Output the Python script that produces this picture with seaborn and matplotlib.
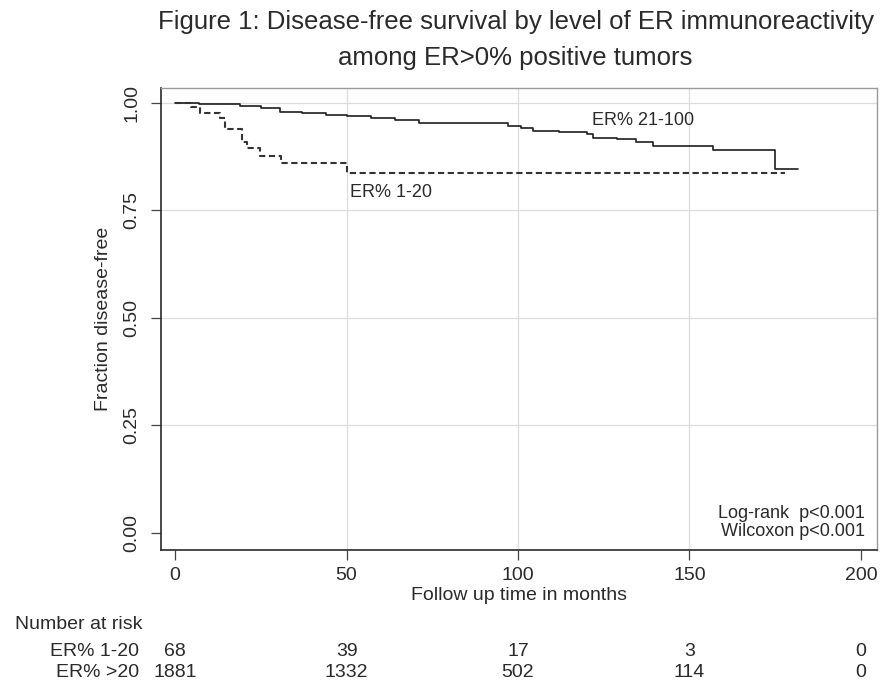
import matplotlib
matplotlib.use("Agg")
import matplotlib.pyplot as plt
import matplotlib.transforms as mtransforms
import pandas as pd
import seaborn as sns

# Kaplan-Meier step estimates (months, fraction disease-free)
months_high = [0, 7, 12, 19, 25, 30.5, 37, 44, 50, 57, 64, 71, 97, 101, 104.5,
               112, 120, 122, 129, 134.5, 139.5, 157, 175, 181.7]
surv_high = [1.000, 0.998, 0.996, 0.992, 0.987, 0.979, 0.976, 0.972, 0.969,
             0.964, 0.959, 0.954, 0.946, 0.941, 0.935, 0.931, 0.927, 0.919,
             0.915, 0.909, 0.899, 0.890, 0.845, 0.845]

months_low = [0, 4.5, 7.3, 13, 14.6, 19.4, 21, 24.8, 31, 50, 178]
surv_low = [1.000, 0.989, 0.975, 0.965, 0.940, 0.909, 0.894, 0.876, 0.859,
            0.836, 0.836]

group_high = "ER% 21-100"
group_low = "ER% 1-20"

# Number at risk table
risk_times = [0, 50, 100, 150, 200]
risk_labels = ["ER% 1-20", "ER% >20"]
risk_low = [68, 39, 17, 3, 0]
risk_high = [1881, 1332, 502, 114, 0]

x_ticks = [0, 50, 100, 150, 200]
y_ticks = [0.00, 0.25, 0.50, 0.75, 1.00]
grid_x = [50, 100, 150]
grid_y = [0.25, 0.50, 0.75, 1.00]

sns.set_theme(style="white")
plt.rcParams["font.family"] = ["Liberation Sans", "DejaVu Sans"]
TXT = "#2a2a2a"

fig = plt.figure(figsize=(8.8, 6.86), dpi=100)
ax = fig.add_axes([0.183, 0.1983, 0.8136, 0.6734])

df_high = pd.DataFrame({"months": months_high, "surv": surv_high, "group": group_high})
df_low = pd.DataFrame({"months": months_low, "surv": surv_low, "group": group_low})

for gx in grid_x:
    ax.axvline(gx, color="#dcdcdc", lw=0.9, zorder=0)
for gy in grid_y:
    ax.axhline(gy, color="#dcdcdc", lw=0.9, zorder=0)

sns.lineplot(data=df_high, x="months", y="surv", ax=ax, color="#1e1e1e",
             lw=1.2, drawstyle="steps-post", estimator=None, legend=False)
sns.lineplot(data=df_low, x="months", y="surv", ax=ax, color="#333333",
             lw=1.5, linestyle=(0, (3.0, 1.7)), drawstyle="steps-post",
             estimator=None, legend=False)

ax.text(136.5, 0.958, group_high, ha="center", va="center", fontsize=13, color=TXT)
ax.text(63, 0.791, group_low, ha="center", va="center", fontsize=13, color=TXT)

ax.text(0.983, 0.080, "Log-rank  p<0.001", transform=ax.transAxes,
        ha="right", va="center", fontsize=13, color=TXT)
ax.text(0.983, 0.040, "Wilcoxon p<0.001", transform=ax.transAxes,
        ha="right", va="center", fontsize=13, color=TXT)

ax.set_xlim(-4.1, 204.7)
ax.set_ylim(-0.0395, 1.0342)
ax.set_xticks(x_ticks)
ax.set_yticks(y_ticks)
ax.set_xticklabels([str(v) for v in x_ticks])
ax.set_yticklabels([f"{v:.2f}" for v in y_ticks])
ax.tick_params(axis="both", direction="out", length=7, width=0.9,
               colors="#444444", labelcolor=TXT, labelsize=14, left=True, bottom=True)
ax.tick_params(axis="x", pad=5)
ax.tick_params(axis="y", pad=8)
for lab in ax.get_yticklabels():
    lab.set_rotation(90)
    lab.set_va("center")

ax.set_xlabel("Follow up time in months", fontsize=14, color=TXT)
ax.set_ylabel("Fraction disease-free", fontsize=14, color=TXT)
ax.xaxis.label.set_va("center")
ax.yaxis.label.set_va("center")
ax.xaxis.set_label_coords(0.5, -0.099)
ax.yaxis.set_label_coords(-0.081, 0.5)

for side in ["left", "bottom"]:
    ax.spines[side].set_color("#2a2a2a")
    ax.spines[side].set_linewidth(1.2)
for side in ["top", "right"]:
    ax.spines[side].set_color("#9a9a9a")
    ax.spines[side].set_linewidth(1.0)

fig.text(0.586, 0.968, "Figure 1: Disease-free survival by level of ER immunoreactivity",
         ha="center", va="center", fontsize=18.5, color=TXT)
fig.text(0.586, 0.915, "among ER>0% positive tumors",
         ha="center", va="center", fontsize=18.5, color=TXT)

# Number at risk table below the axis
blend = mtransforms.blended_transform_factory(ax.transData, fig.transFigure)
fig.text(0.017, 0.089, "Number at risk", ha="left", va="center", fontsize=14, color=TXT)
row_y = [0.051, 0.019]
for label, counts, yy in zip(risk_labels, [risk_low, risk_high], row_y):
    fig.text(0.1585, yy, label, ha="right", va="center", fontsize=14, color=TXT)
    for t, n in zip(risk_times, counts):
        ax.text(t, yy, str(n), transform=blend, ha="center", va="center",
                fontsize=14, color=TXT, clip_on=False)

fig.savefig("out.png", dpi=100, facecolor="white")
